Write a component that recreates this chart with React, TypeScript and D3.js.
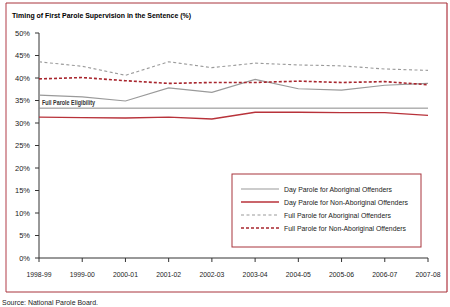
import React from 'react';
import * as d3 from 'd3';

const years = ['1998-99', '1999-00', '2000-01', '2001-02', '2002-03', '2003-04', '2004-05', '2005-06', '2006-07', '2007-08'];
const dayAboriginal = [36.2, 35.8, 34.9, 37.8, 36.8, 39.7, 37.6, 37.3, 38.4, 38.8];
const dayNonAboriginal = [31.3, 31.2, 31.1, 31.3, 30.9, 32.4, 32.4, 32.3, 32.3, 31.7];
const fullAboriginal = [43.6, 42.6, 40.6, 43.6, 42.3, 43.3, 42.9, 42.7, 42.0, 41.7];
const fullNonAboriginal = [39.8, 40.1, 39.4, 38.8, 39.0, 39.0, 39.3, 39.0, 39.2, 38.5];
const eligibility = 33.3;
const yTicks = [0, 5, 10, 15, 20, 25, 30, 35, 40, 45, 50];

const series = [
  { name: 'Day Parole for Aboriginal Offenders', values: dayAboriginal, color: '#9a9a9a', width: 1.1, dash: '', tl: 108 },
  { name: 'Day Parole for Non-Aboriginal Offenders', values: dayNonAboriginal, color: '#b8323a', width: 1.4, dash: '', tl: 124 },
  { name: 'Full Parole for Aboriginal Offenders', values: fullAboriginal, color: '#9a9a9a', width: 1.1, dash: '3,2.5', tl: 107 },
  { name: 'Full Parole for Non-Aboriginal Offenders', values: fullNonAboriginal, color: '#a8262e', width: 1.6, dash: '3,2', tl: 122 },
];

const W = 450, H = 307;
const font = 'Liberation Sans, Arial, sans-serif';

export default function App() {
  const x = d3.scalePoint<string>().domain(years).range([39, 428]);
  const y = d3.scaleLinear().domain([0, 50]).range([258, 33]);
  const line = d3.line<number>()
    .x((_, i) => x(years[i]) as number)
    .y(d => y(d));

  return (
    <svg width={W} height={H} style={{ position: 'absolute', left: 0, top: 0 }} fontFamily={font}>
      <rect x={0} y={0} width={W} height={H} fill="#fff" />
      {/* frame */}
      <line x1={6} x2={6} y1={3} y2={292} stroke="#cf858c" strokeWidth={1.6} />
      <line x1={447} x2={447} y1={3} y2={292} stroke="#cf858c" strokeWidth={2} />
      <line x1={6} x2={447} y1={3} y2={3} stroke="#a8343c" strokeWidth={1} />
      <line x1={6} x2={447} y1={292} y2={292} stroke="#a8343c" strokeWidth={1} />

      <text x={12} y={18} fontSize={8} fontWeight="bold" textLength={179} lengthAdjust="spacingAndGlyphs">
        Timing of First Parole Supervision in the Sentence (%)
      </text>

      {/* y axis */}
      <line x1={39} x2={39} y1={y(50)} y2={y(0)} stroke="#333" />
      {yTicks.map(t => (
        <g key={t}>
          <line x1={35} x2={39} y1={y(t)} y2={y(t)} stroke="#333" />
          <text x={30} y={y(t) + 2.8} fontSize={7.5} textAnchor="end" fill="#222">{t}%</text>
        </g>
      ))}

      {/* x axis */}
      <line x1={39} x2={428} y1={y(0)} y2={y(0)} stroke="#333" />
      {years.map(yr => (
        <g key={yr}>
          <line x1={x(yr)} x2={x(yr)} y1={y(0)} y2={y(0) + 4} stroke="#333" />
          <text x={x(yr)} y={y(0) + 19} fontSize={7.5} textAnchor="middle" fill="#222" textLength={25} lengthAdjust="spacingAndGlyphs">{yr}</text>
        </g>
      ))}

      {/* eligibility line */}
      <line x1={39} x2={428} y1={y(eligibility)} y2={y(eligibility)} stroke="#8a8a8a" strokeWidth={1} />
      <text x={42} y={y(eligibility) - 3} fontSize={6.5} fontWeight="bold" fill="#333" textLength={53} lengthAdjust="spacingAndGlyphs">Full Parole Eligibility</text>

      {series.map(s => (
        <path key={s.name} d={line(s.values) || ''} fill="none" stroke={s.color} strokeWidth={s.width} strokeDasharray={s.dash || undefined} />
      ))}

      {/* legend */}
      <rect x={232} y={174} width={189} height={73} fill="#fff" stroke="#a8343c" strokeWidth={1} />
      {series.map((s, i) => {
        const ly = 189 + i * 13;
        return (
          <g key={s.name}>
            <line x1={241} x2={279} y1={ly} y2={ly} stroke={s.color} strokeWidth={s.width} strokeDasharray={s.dash || undefined} />
            <text x={284} y={ly + 3} fontSize={8} fill="#222" textLength={s.tl} lengthAdjust="spacingAndGlyphs">{s.name}</text>
          </g>
        );
      })}

      <text x={2} y={305} fontSize={8} fill="#222" textLength={96} lengthAdjust="spacingAndGlyphs">Source:  National Parole Board.</text>
    </svg>
  );
}
